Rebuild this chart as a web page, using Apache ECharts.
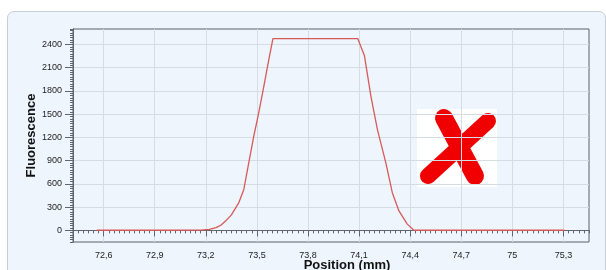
<!DOCTYPE html>
<html>
<head>
<meta charset="utf-8">
<script src="https://cdn.jsdelivr.net/npm/echarts@6/dist/echarts.min.js"></script>
<style>
  body { margin: 0; background: #fff; }
  #panel {
    position: absolute; left: 7px; top: 11px; width: 599px; height: 300px;
    box-sizing: border-box; border: 1px solid #c6ced8; border-radius: 7px;
    background: #eef5fc;
  }
  #chart { position: absolute; left: 0; top: 0; width: 606px; height: 270px; }
</style>
</head>
<body>
<div id="panel"></div>
<div id="chart"></div>
<script>
// scan position (mm) and fluorescence
const posMM = [72.56, 72.8, 73.0, 73.17, 73.22, 73.26, 73.29, 73.317, 73.35, 73.394, 73.423, 73.452,
  73.481, 73.51, 73.54, 73.569, 73.594, 74.092, 74.131, 74.17, 74.208, 74.257, 74.295, 74.334,
  74.383, 74.422, 74.7, 75.0, 75.305]
const fluo = [2, 2, 2, 4, 12, 35, 70, 123, 200, 359, 529, 871,
  1212, 1512, 1853, 2195, 2477, 2477, 2259, 1725, 1298, 871, 487, 251,
  81, 2, 2, 2, 2]

// labelled ticks
const xTicks = [72.6, 72.9, 73.2, 73.5, 73.8, 74.1, 74.4, 74.7, 75.0, 75.3]
const yTicks = [0, 300, 600, 900, 1200, 1500, 1800, 2100, 2400]

const xMin = 72.42, xMax = 75.45
const yMin = -150, yMax = 2600

const font = 'Liberation Sans, Arial, sans-serif'
const axisCol = '#62666c'
const gridCol = '#d6dce3'

const comma = (v) => String(Math.round(v * 10) / 10).replace('.', ',')

const chart = echarts.init(document.getElementById('chart'))

chart.setOption({
  animation: false,
  grid: {
    left: 73, right: 17, top: 29, bottom: 28,
    show: true, borderColor: '#5c6168', borderWidth: 1,
    outerBoundsMode: 'none'
  },
  xAxis: [
    {
      // minor ticks
      type: 'value', min: xMin, max: xMax, interval: 0.03,
      axisLine: { lineStyle: { color: axisCol } },
      axisTick: { length: 3, lineStyle: { color: axisCol } },
      axisLabel: { show: false },
      splitLine: { show: false }
    },
    {
      type: 'value', min: xMin, max: xMax, position: 'bottom',
      axisLine: { lineStyle: { color: axisCol } },
      axisTick: { length: 6, customValues: xTicks, lineStyle: { color: axisCol } },
      axisLabel: {
        customValues: xTicks, margin: 9, color: '#222', fontSize: 9, fontFamily: font,
        formatter: comma
      },
      splitLine: { show: true, lineStyle: { color: gridCol } },
      name: 'Position (mm)', nameLocation: 'middle', nameGap: 17, nameMoveOverlap: false,
      nameTextStyle: { fontSize: 13, fontWeight: 'bold', color: '#111', fontFamily: font, padding: [0, 0, 0, 32] }
    }
  ],
  yAxis: [
    {
      type: 'value', min: yMin, max: yMax, interval: 30,
      axisLine: { show: true, lineStyle: { color: axisCol } },
      axisTick: { show: true, length: 3, lineStyle: { color: axisCol } },
      axisLabel: { show: false },
      splitLine: { show: false }
    },
    {
      type: 'value', min: yMin, max: yMax, position: 'left',
      axisLine: { show: true, lineStyle: { color: axisCol } },
      axisTick: { show: true, length: 8, customValues: yTicks, lineStyle: { color: axisCol } },
      axisLabel: {
        customValues: yTicks, margin: 11, color: '#222', fontSize: 9, fontFamily: font,
        formatter: (v) => String(v)
      },
      splitLine: { show: true, lineStyle: { color: gridCol } },
      name: 'Fluorescence', nameLocation: 'middle', nameGap: 35, nameMoveOverlap: false,
      nameTextStyle: { fontSize: 13, fontWeight: 'bold', color: '#111', fontFamily: font }
    }
  ],
  series: [
    {
      type: 'line',
      xAxisIndex: 0, yAxisIndex: 0,
      data: posMM.map((x, i) => [x, fluo[i]]),
      showSymbol: false,
      lineStyle: { color: '#d65a5a', width: 1.3 }
    }
  ],
  graphic: [
    { type: 'rect', shape: { x: 417, y: 109, width: 80, height: 78 }, style: { fill: '#fff' } },
    {
      type: 'line', shape: { x1: 444, y1: 118, x2: 475, y2: 176 },
      style: { stroke: '#f00000', lineWidth: 18, lineCap: 'round' }
    },
    {
      type: 'line', shape: { x1: 488, y1: 121, x2: 428, y2: 176 },
      style: { stroke: '#f00000', lineWidth: 16, lineCap: 'round' }
    }
  ]
})
</script>
</body>
</html>
